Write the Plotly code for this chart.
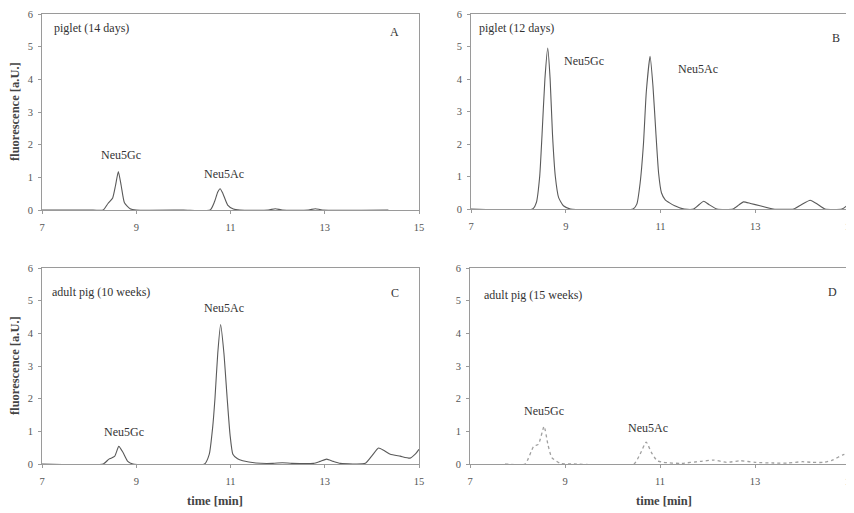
import plotly.graph_objects as go

# ---- data ----
# Panel A: piglet (14 days)
a_t = [7.0, 8.0, 8.3, 8.4, 8.5, 8.56, 8.62, 8.68, 8.75, 8.87, 9.0, 10.0, 10.57, 10.66, 10.73, 10.78, 10.84, 10.94, 11.06, 11.2,
       11.8, 11.95, 12.1, 12.65, 12.8, 12.95, 14.35]
a_y = [0, 0, 0, 0.2, 0.37, 0.75, 1.18, 0.75, 0.22, 0.04, 0, 0, 0, 0.25, 0.55, 0.65, 0.5, 0.15, 0.03, 0,
       0, 0.04, 0, 0, 0.04, 0, 0]

# Panel B: piglet (12 days)
b_t = [7.0, 8.3, 8.38, 8.45, 8.5, 8.56, 8.62, 8.67, 8.72, 8.78, 8.85, 8.95, 9.1,
       10.42, 10.5, 10.57, 10.64, 10.7, 10.78, 10.84, 10.9, 10.96, 11.02, 11.1, 11.2, 11.3, 11.4, 11.5,
       11.7, 11.82, 11.91, 12.02, 12.19, 12.53, 12.65, 12.75, 12.9, 13.1, 13.38,
       13.81, 13.98, 14.16, 14.3, 14.47, 14.83, 15.0]
b_y = [0, 0, 0.2, 1.0, 2.3, 4.0, 4.95, 4.0, 2.3, 1.0, 0.35, 0.1, 0,
       0, 0.15, 0.8, 2.0, 3.6, 4.7, 3.8, 2.4, 1.1, 0.5, 0.28, 0.18, 0.1, 0.04, 0,
       0, 0.14, 0.24, 0.14, 0, 0, 0.12, 0.22, 0.17, 0.1, 0,
       0, 0.14, 0.27, 0.16, 0, 0, 0.18]

# Panel C: adult pig (10 weeks)
c_t = [7.0, 8.3, 8.42, 8.54, 8.63, 8.72, 8.82, 8.93, 10.45, 10.55, 10.62, 10.67, 10.73, 10.79, 10.86, 10.93, 10.99,
       11.05, 11.15, 11.26, 11.54, 11.9, 12.1, 12.3, 12.76, 12.9, 13.04, 13.18, 13.33, 13.86, 14.0, 14.14,
       14.25, 14.39, 14.6, 14.81, 14.92, 15.0]
c_y = [0, 0, 0.15, 0.23, 0.54, 0.35, 0.08, 0, 0, 0.3, 1.1, 2.0, 3.4, 4.27, 3.4, 2.0, 0.9,
       0.3, 0.16, 0.1, 0.03, 0.02, 0.04, 0.02, 0.02, 0.08, 0.15, 0.08, 0.02, 0.02, 0.25, 0.49,
       0.42, 0.3, 0.24, 0.18, 0.3, 0.45]

# Panel D: adult pig (15 weeks)
d_t = [7.74, 8.16, 8.34, 8.44, 8.56, 8.64, 8.72, 8.9, 9.18, 10.45, 10.58, 10.71, 10.82, 10.94, 11.08, 11.43,
       11.85, 12.13, 12.4, 12.7, 13.0, 13.4, 13.68, 14.0, 14.2, 14.45, 14.63, 14.85, 15.0]
d_y = [0, 0, 0.54, 0.6, 1.15, 0.6, 0.2, 0.02, 0, 0, 0.3, 0.67, 0.35, 0.1, 0.05, 0.02,
       0.08, 0.12, 0.05, 0.1, 0.05, 0.03, 0.03, 0.07, 0.05, 0.05, 0.12, 0.28, 0.35]

panel_titles = ["piglet (14 days)", "piglet (12 days)", "adult pig (10 weeks)", "adult pig (15 weeks)"]
panel_letters = ["A", "B", "C", "D"]
x_ticks = [7, 9, 11, 13, 15]
y_ticks = [0, 1, 2, 3, 4, 5, 6]

# peak labels: (text, x, y) per panel
peak_labels = [
    [("Neu5Gc", 8.68, 1.68), ("Neu5Ac", 10.86, 1.1)],
    [("Neu5Gc", 9.38, 4.55), ("Neu5Ac", 11.79, 4.3)],
    [("Neu5Gc", 8.74, 0.98), ("Neu5Ac", 10.86, 4.77)],
    [("Neu5Gc", 8.56, 1.62), ("Neu5Ac", 10.75, 1.1)],
]

# the page body adds an 8px offset; the figure runs slightly past the window's right edge
# so the last x tick label is cut by the window, as in the original
OFF = 8
W, H = 862 - OFF, 513 - OFF
FONT = "Liberation Serif"

# panel pixel boxes in window coordinates (left, right, top, bottom)
boxes = [(42, 419, 14, 210), (471, 850, 14, 209), (42, 419, 268, 464), (470, 850, 268, 464)]
title_pos = [(0.027, 0.93), (0.016, 0.93), (0.021, 0.878), (0.032, 0.862)]
letter_pos = [(0.936, 0.908), (0.963, 0.877), (0.936, 0.872), (0.955, 0.878)]


def px(x):
    return (x - OFF) / W


def py(y):
    return 1 - (y - OFF) / H


fig = go.Figure()
series = [(a_t, a_y), (b_t, b_y), (c_t, c_y), (d_t, d_y)]
for i, (t, y) in enumerate(series):
    n = "" if i == 0 else str(i + 1)
    dotted = i == 3
    fig.add_trace(go.Scatter(
        x=t, y=y, mode="lines", xaxis="x" + n, yaxis="y" + n,
        line=dict(color="#a0a0a0" if dotted else "#5a5a5a", width=1.3 if dotted else 1.1,
                  dash="dot" if dotted else "solid", shape="spline", smoothing=0.5),
        showlegend=False, hoverinfo="skip"))

layout = dict(width=W, height=H, margin=dict(l=0, r=0, t=0, b=0),
              paper_bgcolor="white", plot_bgcolor="white",
              font=dict(family=FONT, size=10, color="#444444"))
annotations = []
for i, (l, r, tp, bt) in enumerate(boxes):
    n = "" if i == 0 else str(i + 1)
    xd = [px(l), px(r)]
    yd = [py(bt), py(tp)]
    common = dict(showline=True, linecolor="#9a9a9a", linewidth=1, mirror=True, automargin=False,
                  ticks="outside", ticklen=3, tickcolor="#9a9a9a", showgrid=False, zeroline=False,
                  ticklabeloverflow="allow",
                  tickfont=dict(family=FONT, size=10.5, color="#555555"))
    layout["xaxis" + n] = dict(domain=xd, range=[7, 15], tickvals=x_ticks, anchor="y" + n,
                               ticklabelstandoff=4, **common)
    layout["yaxis" + n] = dict(domain=yd, range=[0, 6], tickvals=y_ticks, anchor="x" + n,
                               ticklabelstandoff=3, **common)
    xr = "x" + n
    yr = "y" + n
    annotations.append(dict(xref=xr + " domain", yref=yr + " domain", x=title_pos[i][0], y=title_pos[i][1],
                            text=panel_titles[i], showarrow=False, xanchor="left", yanchor="middle",
                            font=dict(family=FONT, size=12, color="#333333")))
    annotations.append(dict(xref=xr + " domain", yref=yr + " domain", x=letter_pos[i][0], y=letter_pos[i][1],
                            text=panel_letters[i], showarrow=False, xanchor="center", yanchor="middle",
                            font=dict(family=FONT, size=12, color="#333333")))
    for txt, lx, ly in peak_labels[i]:
        annotations.append(dict(xref=xr, yref=yr, x=lx, y=ly, text=txt, showarrow=False,
                                xanchor="center", yanchor="middle",
                                font=dict(family=FONT, size=12, color="#333333")))

# axis titles
for yc in [112, 366]:
    annotations.append(dict(xref="paper", yref="paper", x=px(15), y=py(yc), text="<b>fluorescence [a.U.]</b>",
                            textangle=-90, showarrow=False, xanchor="center", yanchor="middle",
                            font=dict(family=FONT, size=12.5, color="#444444")))
for xc in [215, 664]:
    annotations.append(dict(xref="paper", yref="paper", x=px(xc), y=py(501), text="<b>time [min]</b>",
                            showarrow=False, xanchor="center", yanchor="middle",
                            font=dict(family=FONT, size=12.5, color="#444444")))

layout["annotations"] = annotations
fig.update_layout(**layout)
fig.write_html("out.html")
